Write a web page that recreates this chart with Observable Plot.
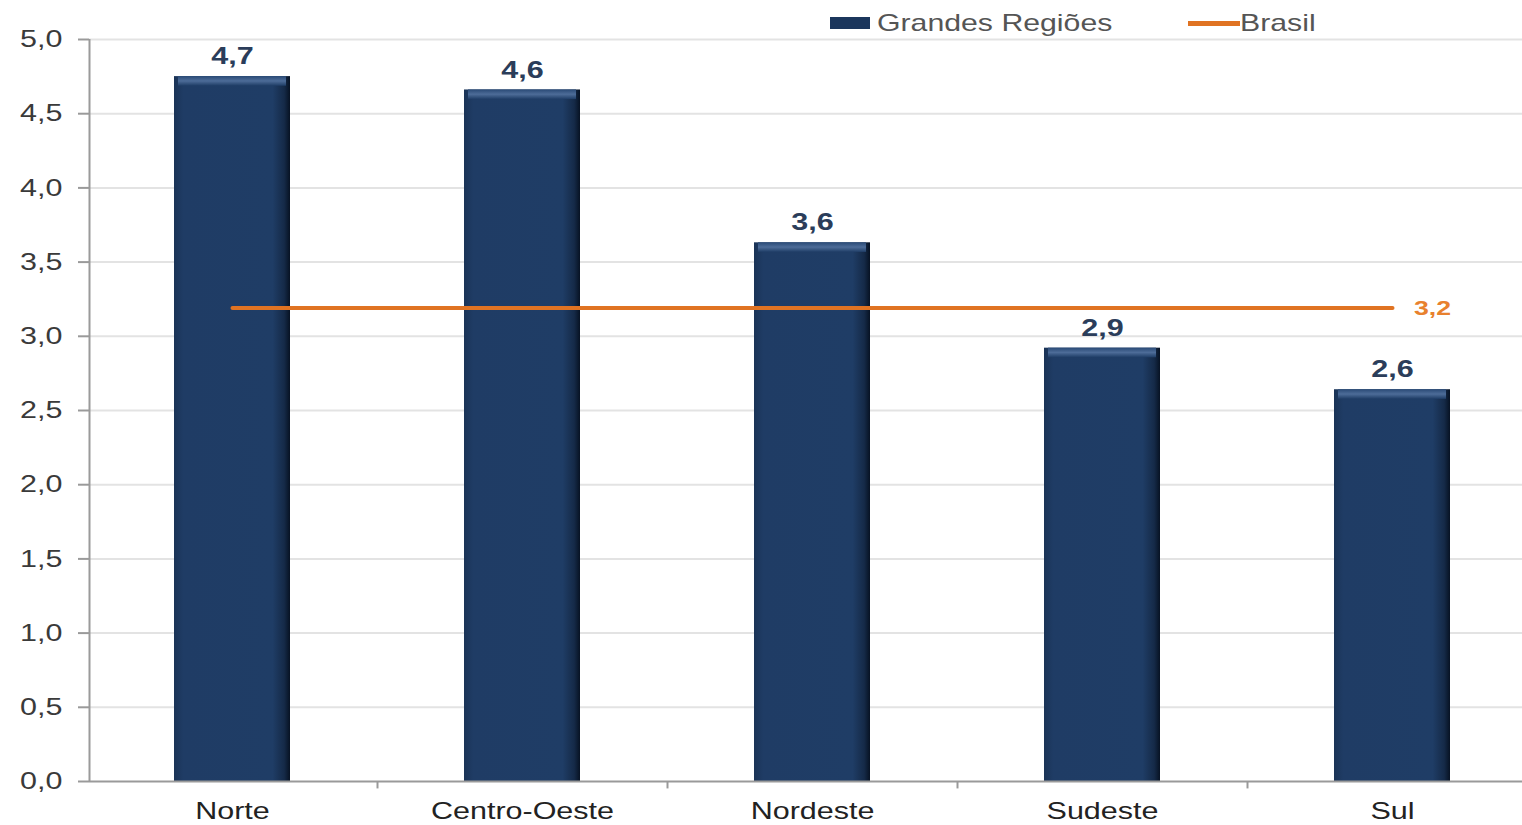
<!DOCTYPE html>
<html>
<head>
<meta charset="utf-8">
<script src="https://cdn.jsdelivr.net/npm/d3@7"></script>
<script src="https://cdn.jsdelivr.net/npm/@observablehq/plot@0.6"></script>
<style>
  html, body { margin: 0; padding: 0; background: #fff; }
  #wrap { position: relative; width: 1522px; height: 825px; overflow: hidden; font-family: "Liberation Sans", Arial, sans-serif; }
  .lg { position: absolute; }
  .lgt { position: absolute; font-size: 24px; color: #555; line-height: 24px; transform: scaleX(1.26); transform-origin: left center; white-space: nowrap; }
</style>
</head>
<body>
<div id="wrap">
  <div id="chart"></div>
  <div class="lg" style="left:830px;top:17px;width:40px;height:12px;background:#1b365c;"></div>
  <div class="lgt" style="left:877px;top:11px;">Grandes Regiões</div>
  <div class="lg" style="left:1188px;top:21px;width:52px;height:5px;background:#e07322;"></div>
  <div class="lgt" style="left:1240px;top:11px;">Brasil</div>
</div>
<script>
const regions = ["Norte", "Centro-Oeste", "Nordeste", "Sudeste", "Sul"];
const values = [4.75, 4.66, 3.63, 2.92, 2.64];
const valueLabels = ["4,7", "4,6", "3,6", "2,9", "2,6"];
const brasil = 3.19;
const brasilLabel = "3,2";
const yTicks = [0, 0.5, 1, 1.5, 2, 2.5, 3, 3.5, 4, 4.5, 5];

const data = regions.map((r, i) => ({region: r, value: values[i], label: valueLabels[i], brasil}));
const fmt = d => d.toFixed(1).replace(".", ",");

const chart = Plot.plot({
  width: 1522,
  height: 825,
  marginLeft: 89,
  marginRight: 0,
  marginTop: 39,
  marginBottom: 44,
  style: {fontFamily: "'Liberation Sans', Arial, sans-serif", background: "#fff"},
  x: {domain: regions, range: [87, 1537], paddingInner: 0.6, paddingOuter: 0.3, axis: null, label: null},
  y: {type: "linear", domain: [0, 5], range: [781, 39], axis: null, label: null},
  marks: [
    Plot.ruleY(yTicks.filter(d => d > 0), {stroke: "#e3e3e3", strokeWidth: 2}),
    Plot.barY(data, {x: "region", y: "value", fill: "url(#barGrad)"}),
    Plot.barY(data, {x: "region", y1: d => d.value - 0.065, y2: "value", fill: "url(#topGrad)", insetLeft: 4, insetRight: 4}),
    Plot.text(data, {x: "region", y: "value", text: "label", dy: -20, fill: "#2b3d5a", fontSize: 24, fontWeight: "bold"}),
    Plot.lineY(data, {x: "region", y: "brasil", stroke: "#e07322", strokeWidth: 4}),
    Plot.text([data[data.length - 1]], {x: "region", y: "brasil", text: () => brasilLabel, dx: 40, fill: "#e8812e", fontSize: 21, fontWeight: "bold"}),
    // axes
    Plot.ruleX([regions[0]], {x: d => d, dx: -143, y1: 0, y2: 5, stroke: "#9a9a9a", strokeWidth: 2}),
    Plot.ruleY([0], {stroke: "#9a9a9a", strokeWidth: 2}),
    Plot.ruleX(regions.slice(1), {x: d => d, dx: -145, y1: 0, y2: -0.05, stroke: "#9a9a9a", strokeWidth: 2}),
    Plot.axisY(yTicks, {tickFormat: fmt, tickSize: 11, tickPadding: 16, fontSize: 24, stroke: "#9a9a9a", strokeWidth: 2, fill: "#3a3a3a", label: null}),
    Plot.axisX({tickSize: 0, tickPadding: 20, fontSize: 24, fill: "#222", label: null})
  ]
});

const svgNS = "http://www.w3.org/2000/svg";
const defs = document.createElementNS(svgNS, "defs");
defs.innerHTML = `
  <linearGradient id="barGrad" x1="0" x2="1" y1="0" y2="0">
    <stop offset="0" stop-color="#1a3356"/>
    <stop offset="0.08" stop-color="#1f3c65"/>
    <stop offset="0.85" stop-color="#1f3d66"/>
    <stop offset="0.95" stop-color="#152a48"/>
    <stop offset="1" stop-color="#071223"/>
  </linearGradient>
  <linearGradient id="topGrad" x1="0" x2="0" y1="0" y2="1">
    <stop offset="0" stop-color="#2a4a76"/>
    <stop offset="0.5" stop-color="#4d6c98"/>
    <stop offset="1" stop-color="#1f3d66"/>
  </linearGradient>`;
chart.insertBefore(defs, chart.firstChild);
document.getElementById("chart").appendChild(chart);

// horizontally stretch the lettering as in the reference image
chart.querySelectorAll("text").forEach(t => {
  const len = t.getComputedTextLength();
  if (len > 0) {
    t.setAttribute("textLength", (len * 1.27).toFixed(1));
    t.setAttribute("lengthAdjust", "spacingAndGlyphs");
  }
});
</script>
</body>
</html>
